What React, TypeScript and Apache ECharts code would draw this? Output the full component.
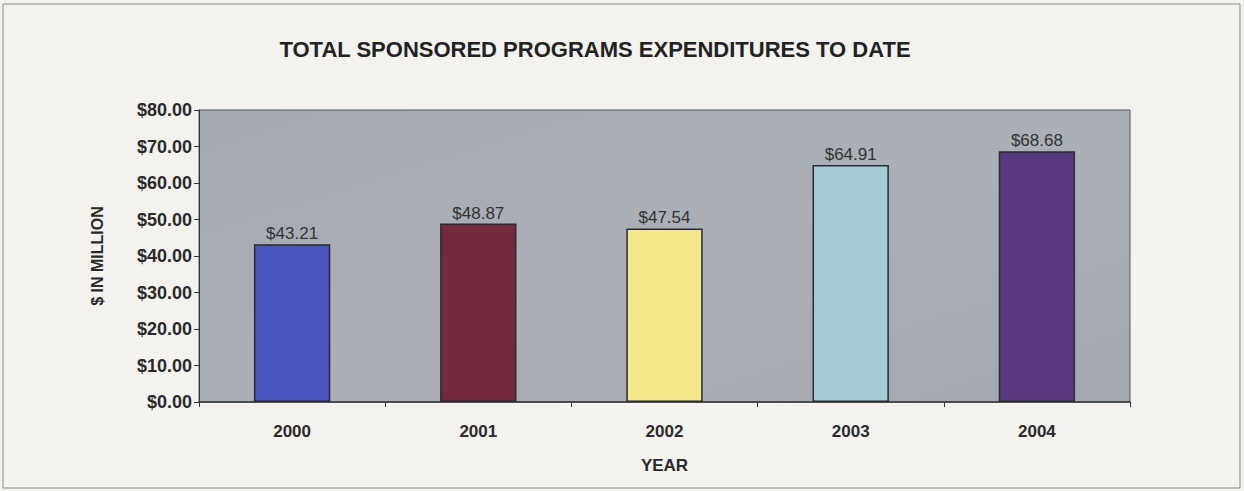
import React, { useEffect, useRef } from "react";
import * as echarts from "echarts";

const categories = ["2000", "2001", "2002", "2003", "2004"];
const values = [43.21, 48.87, 47.54, 64.91, 68.68];
const barColors = ["#4b55bf", "#74293f", "#f4e68a", "#a6cbd5", "#58397f"];
const titleText = "TOTAL SPONSORED PROGRAMS EXPENDITURES TO DATE";
const yAxisName = "$ IN MILLION";
const xAxisName = "YEAR";

export default function App() {
  const ref = useRef<HTMLDivElement>(null);
  useEffect(() => {
    if (!ref.current) return;
    const chart = echarts.init(ref.current, undefined, { renderer: "svg" });
    const font = "Arial, 'Liberation Sans', sans-serif";
    chart.setOption({
      animation: false,
      backgroundColor: "#f3f2ef",
      textStyle: { fontFamily: font },
      title: {
        text: titleText,
        left: 590,
        top: 33,
        textAlign: "center",
        textStyle: { fontSize: 22, fontWeight: "bold", color: "#222", fontFamily: font },
      },
      graphic: [
        {
          type: "rect",
          shape: { x: 3, y: 4, width: 1237, height: 484 },
          style: { fill: "none", stroke: "#8a8a8a", lineWidth: 1 },
          silent: true,
        },
      ],
      grid: {
        left: 199,
        right: 114,
        top: 110,
        bottom: 89,
        show: true,
        backgroundColor: new echarts.graphic.LinearGradient(0, 0, 1, 1, [
          { offset: 0, color: "#a4a8b0" },
          { offset: 0.5, color: "#abafb6" },
          { offset: 1, color: "#a3a8ae" },
        ]),
        borderColor: "#55585e",
        borderWidth: 1,
      },
      xAxis: {
        type: "category",
        data: categories,
        name: xAxisName,
        nameLocation: "middle",
        nameGap: 55,
        nameTextStyle: { fontSize: 17, fontWeight: "bold", color: "#2a2a2a", fontFamily: font },
        axisLine: { lineStyle: { color: "#333", width: 1.5 } },
        axisTick: { show: true, length: 5, lineStyle: { color: "#333" } },
        axisLabel: { fontSize: 17, fontWeight: "bold", color: "#2a2a2a", margin: 21, fontFamily: font },
      },
      yAxis: {
        type: "value",
        min: 0,
        max: 80,
        interval: 10,
        name: yAxisName,
        nameLocation: "middle",
        nameGap: 94,
        nameRotate: 90,
        nameTextStyle: { fontSize: 16, fontWeight: "bold", color: "#2a2a2a", fontFamily: font },
        axisLine: { show: true, lineStyle: { color: "#333" } },
        axisTick: { show: true, length: 5, lineStyle: { color: "#333" } },
        splitLine: { show: false },
        axisLabel: {
          fontSize: 18,
          fontWeight: "bold",
          color: "#2a2a2a",
          margin: 7,
          fontFamily: font,
          formatter: (v: number) => "$" + v.toFixed(2),
        },
      },
      series: [
        {
          type: "bar",
          data: values.map((v, i) => ({ value: v, itemStyle: { color: barColors[i] } })),
          barWidth: "41%",
          itemStyle: { borderColor: "#2a2a35", borderWidth: 1.5 },
          label: {
            show: true,
            position: "top",
            distance: 2,
            fontSize: 17,
            color: "#333",
            fontFamily: font,
            formatter: (p: any) => "$" + Number(p.value).toFixed(2),
          },
        },
      ],
    });
    return () => chart.dispose();
  }, []);
  return (
    <div
      ref={ref}
      style={{ position: "fixed", left: 0, top: 0, width: 1244, height: 491 }}
    />
  );
}
